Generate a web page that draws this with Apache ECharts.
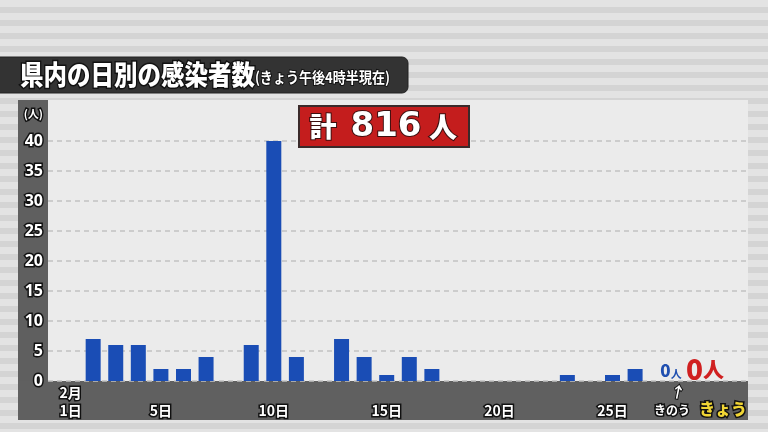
<!DOCTYPE html>
<html><head><meta charset="utf-8">
<script src="https://cdn.jsdelivr.net/npm/echarts@6/dist/echarts.min.js"></script>
<style>
html,body{margin:0;padding:0;width:768px;height:432px;overflow:hidden;
background:repeating-linear-gradient(to bottom,#e3e3e3 0px,#e3e3e3 7px,#d4d4d4 7px,#d4d4d4 13px);}
#c{width:768px;height:432px;}
</style></head>
<body><div id="c"></div>
<script>
const days = [1,2,3,4,5,6,7,8,9,10,11,12,13,14,15,16,17,18,19,20,21,22,23,24,25,26,27,28];
const cases = [0,7,6,6,2,2,4,0,6,40,4,0,7,4,1,4,2,0,0,0,0,0,1,0,1,2,0,0];
const labelDays = [1,5,10,15,20,25];
const yTicks = [0,5,10,15,20,25,30,35,40];
const titleMain = '県内の日別の感染者数';
const titleSub = '(きょう午後4時半現在)';
const totalCases = 816;
const yesterdayCount = 0;
const todayCount = 0;

const FONT = '"Noto Sans CJK JP", "Noto Sans", sans-serif';
const chart = echarts.init(document.getElementById('c'), null, {renderer:'canvas'});
const outline = {textBorderColor:'#111', textBorderWidth:3};

chart.setOption({
  animation:false,
  graphic:[
    {type:'rect', z:-10, shape:{x:-6,y:57,width:414,height:36,r:6}, style:{fill:'#333333',stroke:'#222',lineWidth:1}},
    {type:'text', z:11, x:20, y:75, scaleX:0.87, style:{
      text:'{a|'+titleMain+'}{b|'+titleSub+'}', align:'left', verticalAlign:'middle',
      rich:{
        a:{fontFamily:FONT,fontSize:27,fontWeight:900,fill:'#fff',stroke:'#111',lineWidth:3,lineHeight:34},
        b:{fontFamily:FONT,fontSize:15,fontWeight:'bold',fill:'#fff',stroke:'#111',lineWidth:2,lineHeight:34,padding:[5,0,0,0]}
      }}},
    {type:'rect', z:-10, shape:{x:48,y:100,width:700,height:281}, style:{fill:'#ebebeb'}},
    {type:'rect', z:-10, shape:{x:18,y:100,width:30,height:320}, style:{fill:'#5f5f5f'}},
    {type:'rect', z:-10, shape:{x:18,y:381,width:730,height:39}, style:{fill:'#606060'}},
    {type:'rect', z:10, shape:{x:299,y:106,width:170,height:41}, style:{fill:'#c41d1d',stroke:'#3a2a2a',lineWidth:2}},
    {type:'text', z:11, x:323, y:127, style:{text:'計', align:'center', verticalAlign:'middle',
      fontFamily:FONT,fontSize:27,fontWeight:900,fill:'#fff',stroke:'#3a1010',lineWidth:2}},
    {type:'text', z:11, x:386, y:127, style:{text:String(totalCases), align:'center', verticalAlign:'middle',
      fontFamily:'"DejaVu Sans", sans-serif',fontSize:34,fontWeight:'bold',fill:'#fff',stroke:'#3a1010',lineWidth:2}},
    {type:'text', z:11, x:443, y:127, style:{text:'人', align:'center', verticalAlign:'middle',
      fontFamily:FONT,fontSize:28,fontWeight:900,fill:'#fff',stroke:'#3a1010',lineWidth:2}},
    {type:'text', z:11, x:671, y:371, style:{
      text:'{n|'+yesterdayCount+'}{p|人}', align:'center', verticalAlign:'middle',
      rich:{n:{fontFamily:FONT,fontSize:17,fontWeight:900,fill:'#1f4fb0'},p:{fontFamily:FONT,fontSize:11,fontWeight:'bold',fill:'#1f4fb0',padding:[5,0,0,0]}}}},
    {type:'text', z:11, x:705, y:369, style:{
      text:'{n|'+todayCount+'}{p|人}', align:'center', verticalAlign:'middle',
      rich:{n:{fontFamily:FONT,fontSize:28,fontWeight:900,fill:'#d02020'},p:{fontFamily:FONT,fontSize:21,fontWeight:900,fill:'#d02020'}}}},
    {type:'text', z:11, x:678, y:392, rotation:-0.2, style:{text:'↑', align:'center', verticalAlign:'middle',
      fontFamily:FONT,fontSize:15,fontWeight:'bold',fill:'#fff',stroke:'#111',lineWidth:2}},
    {type:'text', z:11, x:672, y:410, style:{text:'きのう', align:'center', verticalAlign:'middle',
      fontFamily:FONT,fontSize:12,fontWeight:'bold',fill:'#fff',stroke:'#111',lineWidth:3}},
    {type:'text', z:11, x:723, y:409, style:{text:'きょう', align:'center', verticalAlign:'middle',
      fontFamily:FONT,fontSize:16,fontWeight:900,fill:'#f0d535',stroke:'#111',lineWidth:3}}
  ],
  grid:{left:48,right:20,top:141,bottom:51},
  xAxis:{
    type:'value', min:0, max:31, interval:1,
    axisLine:{show:false}, axisTick:{show:false}, splitLine:{show:false},
    axisLabel:{
      margin:3, color:'#fff', fontFamily:FONT, fontSize:14, fontWeight:'bold', lineHeight:18,
      ...outline,
      formatter:function(v){
        if(labelDays.indexOf(v)<0) return '';
        return v===1 ? '2月\n1日' : '\n'+v+'日';
      }
    }
  },
  yAxis:{
    type:'value', min:0, max:40, interval:5,
    name:'(人)', nameLocation:'end', nameGap:22,
    nameTextStyle:{color:'#fff',fontFamily:FONT,fontSize:11,fontWeight:'bold',align:'right',padding:[0,5,0,0],...outline},
    axisLine:{show:false}, axisTick:{show:false},
    axisLabel:{margin:5,color:'#fff',fontFamily:'"Noto Sans", sans-serif',fontSize:16,fontWeight:'bold',...outline,
      formatter:function(v){return yTicks.indexOf(v)>=0 ? String(v) : '';}},
    splitLine:{show:true,lineStyle:{color:'#c2c2c2',type:[5,4],width:1.5}}
  },
  series:[{
    type:'bar', barWidth:15, itemStyle:{color:'#1a4db5'},
    data:days.map((d,i)=>[d,cases[i]])
  }]
});
</script></body></html>
